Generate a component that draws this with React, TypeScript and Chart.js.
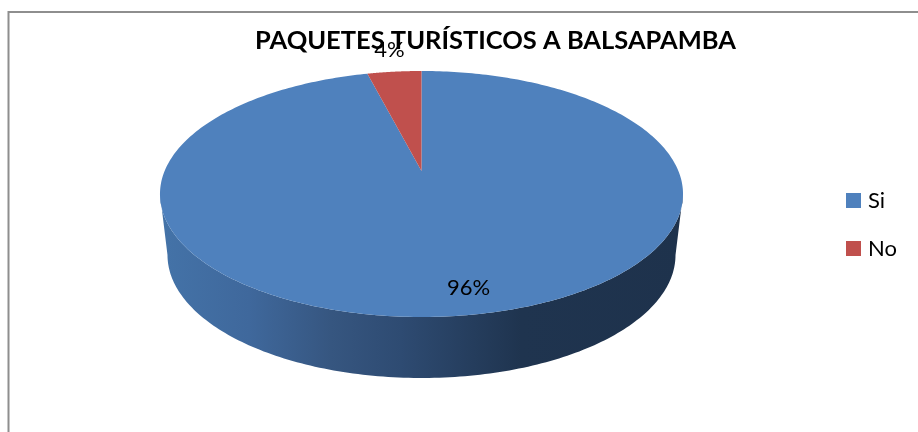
import React, { useEffect, useRef } from "react";
import { Chart, registerables } from "chart.js";

Chart.register(...registerables);

const categories = ["Si", "No"];
const seriesValues = [96, 4];
const sliceColors = ["#4F81BD", "#C0504D"];
const chartTitle = "PAQUETES TURÍSTICOS A BALSAPAMBA";

const FONT = "Lato, Carlito, Calibri, sans-serif";

// Perspective of the pie's top face
const CX = 421.5;
const APEX_Y = 171;
const PA = 86.72;
const PC = -0.187;
const SX = 256.9;
const DEPTH = 61;
const BASE_SCALE = 254 / 261.5;
const FRONT_V = 0.187;

function project(u: number, v: number, scale = 1, dy = 0) {
  const w = 1 + PC * v;
  return { x: CX + (SX * scale * u) / w, y: (APEX_Y + PA * v) / w + dy };
}

const sidePlugin = {
  id: "pie3d",
  beforeDatasetsDraw(chart: any) {
    const ctx = chart.ctx;
    const arcs = chart.getDatasetMeta(0).data;
    // side wall of every slice that faces the viewer
    arcs.forEach((arc: any) => {
      const { startAngle, endAngle } = arc.getProps(["startAngle", "endAngle"], true);
      const top: { x: number; y: number }[] = [];
      const bottom: { x: number; y: number }[] = [];
      const n = 360;
      for (let i = 0; i <= n; i++) {
        const a = startAngle + ((endAngle - startAngle) * i) / n;
        const u = Math.cos(a);
        const v = Math.sin(a);
        if (v >= FRONT_V) {
          top.push(project(u, v));
          bottom.push(project(u, v, BASE_SCALE, DEPTH));
        }
      }
      if (!top.length) return;
      const g = ctx.createLinearGradient(160, 0, 683, 0);
      g.addColorStop(0, "#4473A8");
      g.addColorStop(0.17, "#3F689C");
      g.addColorStop(0.327, "#365680");
      g.addColorStop(0.46, "#2E4B72");
      g.addColorStop(0.69, "#1F344F");
      g.addColorStop(1, "#1E324C");
      ctx.save();
      ctx.fillStyle = g;
      ctx.beginPath();
      top.forEach((p, i) => (i ? ctx.lineTo(p.x, p.y) : ctx.moveTo(p.x, p.y)));
      bottom.reverse().forEach((p) => ctx.lineTo(p.x, p.y));
      ctx.closePath();
      ctx.fill();
      ctx.restore();
    });
    // top faces, from the library's arc angles, in perspective
    arcs.forEach((arc: any, idx: number) => {
      const { startAngle, endAngle } = arc.getProps(["startAngle", "endAngle"], true);
      ctx.save();
      ctx.fillStyle = sliceColors[idx];
      ctx.beginPath();
      const apex = project(0, 0);
      ctx.moveTo(apex.x, apex.y);
      const n = 360;
      for (let i = 0; i <= n; i++) {
        const a = startAngle + ((endAngle - startAngle) * i) / n;
        const p = project(Math.cos(a), Math.sin(a));
        ctx.lineTo(p.x, p.y);
      }
      ctx.closePath();
      ctx.fill();
      ctx.restore();
    });
    return;
  },
  beforeDatasetDraw() {
    return false; // the faces above replace the flat circle
  },
  afterDraw(chart: any) {
    const ctx = chart.ctx;
    const arcs = chart.getDatasetMeta(0).data;
    const labelRadius = [0.84, 1.27];
    const labelShift = [15, 1];
    const total = seriesValues.reduce((s, x) => s + x, 0);
    ctx.save();
    ctx.font = `22px ${FONT}`;
    ctx.fillStyle = "#000";
    ctx.textAlign = "center";
    ctx.textBaseline = "middle";
    arcs.forEach((arc: any, i: number) => {
      const { startAngle, endAngle } = arc.getProps(["startAngle", "endAngle"], true);
      const a = (startAngle + endAngle) / 2;
      const p = project(labelRadius[i] * Math.cos(a), labelRadius[i] * Math.sin(a));
      ctx.fillText(`${Math.round((seriesValues[i] / total) * 100)}%`, p.x + labelShift[i], p.y);
    });
    ctx.restore();
  },
  afterLayout(chart: any) {
    const t = chart.titleBlock;
    t.left = 255;
    t.right = 736;
    t.top = 25;
    const l = chart.legend;
    const w = l.right - l.left;
    l.left = 850 - 26;
    l.right = l.left + w;
    l.top = 189.5 - 26;
    l.bottom = l.top + 160;
  },
  beforeDraw(chart: any) {
    const ctx = chart.ctx;
    ctx.save();
    ctx.fillStyle = "#fff";
    ctx.fillRect(0, 0, 918, 432);
    ctx.strokeStyle = "#8E8E8E";
    ctx.lineWidth = 2;
    ctx.beginPath();
    ctx.moveTo(8.5, 432);
    ctx.lineTo(8.5, 12);
    ctx.lineTo(918, 12);
    ctx.stroke();
    ctx.restore();
  },
};

export default function App() {
  const ref = useRef<HTMLCanvasElement>(null);
  useEffect(() => {
    const chart = new Chart(ref.current!, {
      type: "pie",
      data: {
        labels: categories,
        datasets: [{ data: seriesValues, backgroundColor: sliceColors, borderWidth: 0 }],
      },
      options: {
        responsive: false,
        animation: false,
        plugins: {
          title: {
            display: true,
            text: chartTitle,
            color: "#000",
            font: { family: FONT, size: 25.5, weight: "bold" },
            padding: 0,
          },
          legend: {
            position: "right",
            align: "start",
            labels: {
              usePointStyle: true,
              pointStyle: "rect",
              boxWidth: 7,
              boxHeight: 15,
              padding: 26,
              color: "#000",
              font: { family: FONT, size: 22 },
            },
          },
          tooltip: { enabled: false },
        },
      },
      plugins: [sidePlugin],
    } as any);
    return () => chart.destroy();
  }, []);
  return (
    <div style={{ position: "absolute", left: 0, top: 0, width: 918, height: 432, background: "#fff" }}>
      <canvas ref={ref} width={918} height={432} style={{ display: "block" }} />
    </div>
  );
}
